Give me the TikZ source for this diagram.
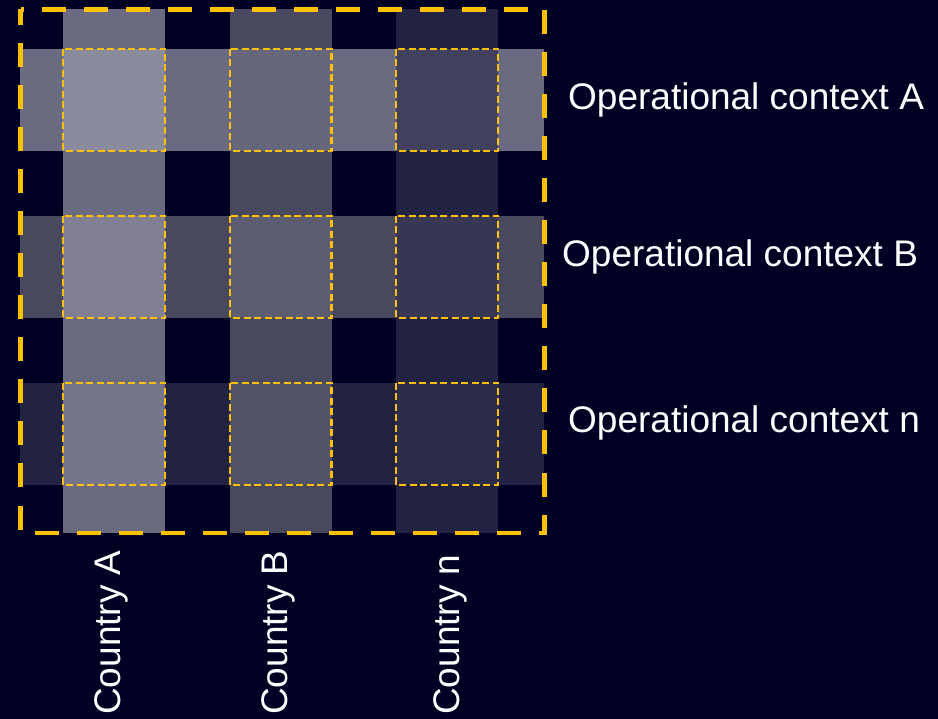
\documentclass[tikz,border=0pt]{standalone}
\usepackage{fontspec}
\setmainfont{Liberation Sans}
\definecolor{bgnavy}{RGB}{0,0,35}
\definecolor{gold}{RGB}{255,192,0}
\definecolor{shA}{RGB}{152,152,169}
\definecolor{shB}{RGB}{103,103,121}
\definecolor{shN}{RGB}{49,49,80}
\begin{document}
\begin{tikzpicture}[x=1pt,y=-1pt,
  band/.style={fill opacity=0.7},
  cell/.style={draw=gold,line width=2.4pt,dash pattern=on 7pt off 3.5pt},
  frame/.style={draw=gold,line width=4.8pt,dash pattern=on 24pt off 18pt,dash phase=8pt},
  lbl/.style={text=white,inner sep=0pt,anchor=base west,font=\fontsize{37}{44}\selectfont}]
\fill[bgnavy] (0,0) rectangle (938,719);
\useasboundingbox (0,0) rectangle (938,719);
% rows
\fill[band,shA] (20,49) rectangle (544,151);
\fill[band,shB] (20,216) rectangle (544,318);
\fill[band,shN] (20,383) rectangle (544,485);
% columns
\fill[band,shA] (63,9) rectangle (165,533);
\fill[band,shB] (230,9) rectangle (331.5,533);
\fill[band,shN] (396,9) rectangle (498,533);
% cells
\foreach \x/\xx in {63/165,230/331.5,396/498}{
  \foreach \y/\yy in {49/151,216/318,383/485}{
    \draw[cell] (\x,\y) rectangle (\xx,\yy);
  }
}
% frame
\draw[frame] (20.5,9.5) rectangle (544.5,533);
% labels
\node[lbl] (ocA) at (568,110) {Operational context A};
\node[lbl] (ocB) at (562,267) {Operational context B};
\node[lbl] (ocN) at (568,433) {Operational context n};
\node[lbl,rotate=90] (cA) at (120,715) {Country A};
\node[lbl,rotate=90] (cB) at (287,715) {Country B};
\node[lbl,rotate=90] (cN) at (459,715) {Country n};
\end{tikzpicture}
\end{document}
